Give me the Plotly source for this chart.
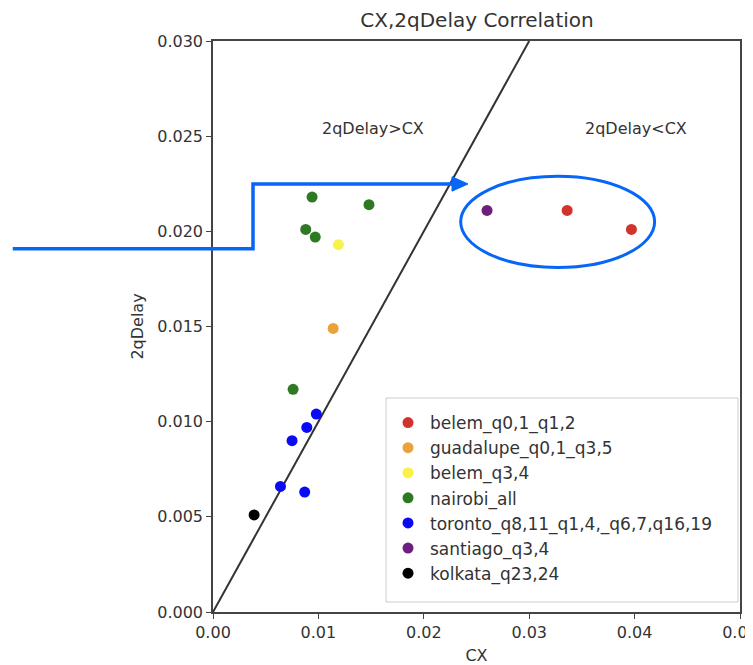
import plotly.graph_objects as go

# ---- data ----
series_names = ["belem_q0,1_q1,2", "guadalupe_q0,1_q3,5", "belem_q3,4", "nairobi_all",
                "toronto_q8,11_q1,4,_q6,7,q16,19", "santiago_q3,4", "kolkata_q23,24"]
series_colors = ["#d2332c", "#eaa23a", "#f8f24a", "#2d7a22", "#0a0af5", "#6e1f7e", "#000000"]
cx_values = [
    [0.0336, 0.0397],
    [0.0114],
    [0.0119],
    [0.0094, 0.0148, 0.0088, 0.0097, 0.0076],
    [0.0098, 0.0089, 0.0075, 0.0064, 0.0087],
    [0.0260],
    [0.0039],
]
delay_values = [
    [0.0211, 0.0201],
    [0.0149],
    [0.0193],
    [0.0218, 0.0214, 0.0201, 0.0197, 0.0117],
    [0.0104, 0.0097, 0.0090, 0.0066, 0.0063],
    [0.0211],
    [0.0051],
]
diag_x = [0.0, 0.03]
diag_y = [0.0, 0.03]
x_ticks = [0.0, 0.01, 0.02, 0.03, 0.04, 0.05]
y_ticks = [0.0, 0.005, 0.010, 0.015, 0.020, 0.025, 0.030]

FONT = "DejaVu Sans"
TXT = "#333333"

fig = go.Figure()
fig.add_trace(go.Scatter(x=diag_x, y=diag_y, mode="lines",
                         line=dict(color="#333333", width=2), showlegend=False,
                         hoverinfo="skip"))
for name, col, xs, ys in zip(series_names, series_colors, cx_values, delay_values):
    fig.add_trace(go.Scatter(x=xs, y=ys, mode="markers", name=name,
                             marker=dict(color=col, size=11, line=dict(width=0))))

# region labels
fig.add_annotation(x=0.0152, y=0.0254, text="2qDelay>CX", showarrow=False,
                   font=dict(family=FONT, size=16, color=TXT))
fig.add_annotation(x=0.0401, y=0.0254, text="2qDelay<CX", showarrow=False,
                   font=dict(family=FONT, size=16, color=TXT))

# legend frame (matplotlib-style box)
fig.add_shape(type="rect", xref="paper", yref="paper", x0=0.3283, x1=0.9962, y0=0.0175, y1=0.3748,
              line=dict(color="#cccccc", width=1), fillcolor="rgba(255,255,255,0.9)", layer="below")

# highlight ellipse and arrow overlay
BLUE = "#0766f5"
fig.add_shape(type="circle", xref="x", yref="y", x0=0.0235, x1=0.0419, y0=0.0181, y1=0.0229,
              line=dict(color=BLUE, width=3), layer="above")
fig.add_shape(type="path", xref="paper", yref="paper",
              path="M -0.38,0.6363 L 0.0759,0.6363 L 0.0759,0.7496 L 0.456,0.7496",
              line=dict(color=BLUE, width=3.5), layer="above")
fig.add_shape(type="path", xref="paper", yref="paper",
              path="M 0.4535,0.7622 L 0.4839,0.7496 L 0.4535,0.737 Z",
              line=dict(color=BLUE, width=1), fillcolor=BLUE, layer="above")

axis_common = dict(showline=True, linecolor="#444444", linewidth=1.5, mirror=True,
                   ticks="outside", ticklen=5, tickcolor="#444444", showgrid=False,
                   zeroline=False, automargin=False, ticklabeloverflow="allow",
                   tickfont=dict(family=FONT, size=16, color=TXT))
fig.update_xaxes(range=[0, 0.05], tickvals=x_ticks, tickformat=".2f",
                 title=dict(text="CX", font=dict(family=FONT, size=16, color=TXT), standoff=9),
                 **axis_common)
fig.update_yaxes(range=[0, 0.03], tickvals=y_ticks, tickformat=".3f",
                 title=dict(text="2qDelay", font=dict(family=FONT, size=16, color=TXT), standoff=10),
                 **axis_common)

fig.update_layout(
    width=745, height=657,
    margin=dict(l=205, r=13, t=33, b=53),
    paper_bgcolor="white", plot_bgcolor="white",
    title=dict(text="CX,2qDelay Correlation", x=0.6295, xanchor="center", y=0.9817, yanchor="middle",
               font=dict(family=FONT, size=20, color=TXT)),
    legend=dict(x=0.3283, y=0.3625, xanchor="left", yanchor="top",
                bgcolor="rgba(0,0,0,0)", borderwidth=0,
                font=dict(family=FONT, size=17, color=TXT), tracegroupgap=0,
                itemwidth=34),
    showlegend=True,
)

fig.write_html("out.html")
